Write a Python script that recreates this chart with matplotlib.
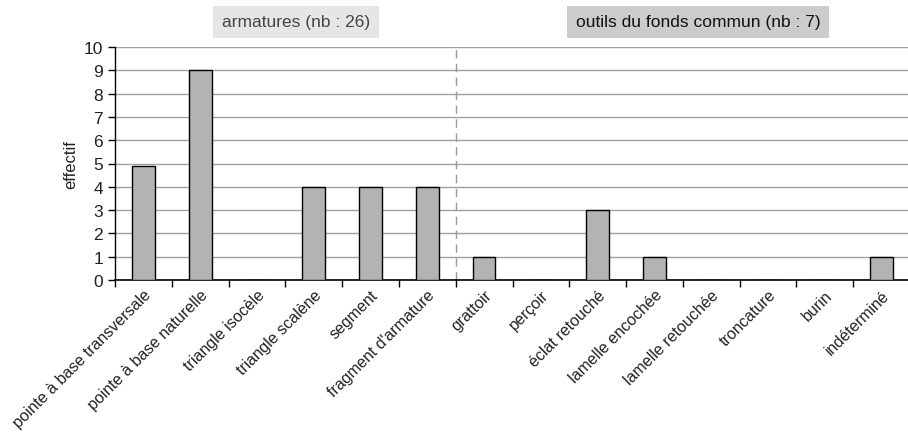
import matplotlib
matplotlib.use("Agg")
import matplotlib.pyplot as plt

categories = ["pointe à base transversale", "pointe à base naturelle", "triangle isocèle",
              "triangle scalène", "segment", "fragment d'armature",
              "grattoir", "perçoir", "éclat retouché", "lamelle encochée",
              "lamelle retouchée", "troncature", "burin", "indéterminé"]
values = [4.9, 9, 0, 4, 4, 4, 1, 0, 3, 1, 0, 0, 0, 1]
yticks = list(range(0, 11))
group_titles = ["armatures (nb : 26)", "outils du fonds commun (nb : 7)"]

plt.rcParams['font.family'] = ['Liberation Sans', 'DejaVu Sans']

fig = plt.figure(figsize=(9.08, 4.35), dpi=100)
ax = fig.add_axes([115/908, 1-281/435, 795/908, (281-48)/435])

x = list(range(len(categories)))
ax.bar(x, values, width=0.4, color='#b3b3b3', edgecolor='black', linewidth=1, zorder=3)

ax.set_xlim(-0.5, len(categories) - 0.5)
ax.set_ylim(0, 10)
ax.set_yticks(yticks)
ax.yaxis.grid(True, color='#a0a0a0', linewidth=1, zorder=0)
ax.set_axisbelow(True)

ax.set_xticks([i - 0.5 for i in range(len(categories) + 1)])
ax.set_xticklabels([])
ax.set_xticks(x, minor=True)
ax.set_xticklabels(categories, minor=True, rotation=45, ha='right', va='top',
                   rotation_mode='anchor', fontsize=11.5, color='#222222')
ax.tick_params(axis='x', which='minor', length=0, pad=5)
ax.tick_params(axis='x', which='major', length=5, width=1, direction='out')
ax.tick_params(axis='y', length=5, width=1, labelsize=12.5, labelcolor='#222222')

for s in ['top', 'right']:
    ax.spines[s].set_visible(False)
ax.spines['left'].set_linewidth(1)
ax.spines['bottom'].set_linewidth(1.2)

ax.axvline(5.5, color='#999999', linestyle=(0, (6, 4)), linewidth=1, zorder=2)

ax.set_ylabel('effectif', fontsize=12, labelpad=4, color='#222222')

fig.text(296/908, 1-23/435, group_titles[0], ha='center', va='center', fontsize=12.5,
         color='#444444',
         bbox=dict(boxstyle='square,pad=0.5', facecolor='#e6e6e6', edgecolor='none'))
fig.text(698/908, 1-23/435, group_titles[1], ha='center', va='center', fontsize=12.5,
         color='#111111',
         bbox=dict(boxstyle='square,pad=0.5', facecolor='#cccccc', edgecolor='none'))

fig.savefig('out.png', dpi=100)
